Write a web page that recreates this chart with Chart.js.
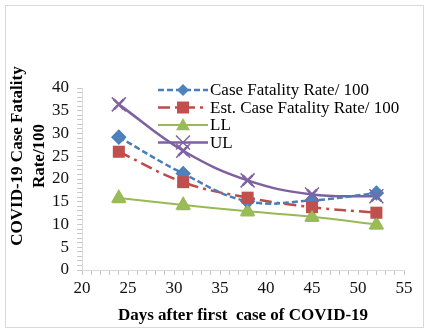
<!DOCTYPE html>
<html>
<head>
<meta charset="utf-8">
<script src="https://cdn.jsdelivr.net/npm/chart.js@4/dist/chart.umd.min.js"></script>
<style>
  html, body { margin: 0; padding: 0; background: #fff; }
  #wrap { width: 430px; height: 335px; position: relative; }
</style>
</head>
<body>
<div id="wrap"><canvas id="c" width="430" height="335"></canvas></div>
<script>
// data
const days = [24, 31, 38, 45, 52];
const cfr = [29.2, 21.2, 15.1, 15.3, 16.9];
const estCfr = [26.0, 19.3, 15.9, 13.8, 12.6];
const ll = [15.8, 14.3, 12.9, 11.7, 10.0];
const ul = [36.4, 26.2, 19.7, 16.6, 16.2];
const xTicks = [20, 25, 30, 35, 40, 45, 50, 55];
const yTicks = [0, 5, 10, 15, 20, 25, 30, 35, 40];

const serif = "'Liberation Serif', 'Times New Roman', serif";

const toPts = (vals) => days.map((d, i) => ({ x: d, y: vals[i] }));

function drawMarker(ctx, style, x, y, r, color) {
    ctx.save();
    ctx.fillStyle = color;
    ctx.strokeStyle = color;
    ctx.beginPath();
    if (style === 'rectRot') {
        ctx.moveTo(x, y - r); ctx.lineTo(x + r, y); ctx.lineTo(x, y + r); ctx.lineTo(x - r, y);
        ctx.closePath(); ctx.fill();
    } else if (style === 'rect') {
        ctx.rect(x - r, y - r, 2 * r, 2 * r); ctx.fill();
    } else if (style === 'triangle') {
        ctx.moveTo(x, y - r); ctx.lineTo(x + r, y + r * 0.75); ctx.lineTo(x - r, y + r * 0.75);
        ctx.closePath(); ctx.fill();
    } else {
        ctx.lineWidth = 1.5;
        ctx.moveTo(x - r, y - r); ctx.lineTo(x + r, y + r);
        ctx.moveTo(x + r, y - r); ctx.lineTo(x - r, y + r); ctx.stroke();
    }
    ctx.restore();
}

const frame = {
    id: 'frame',
    beforeDraw(chart) {
        const ctx = chart.ctx;
        ctx.save();
        ctx.fillStyle = '#fff';
        ctx.fillRect(0, 0, chart.width, chart.height);
        ctx.strokeStyle = '#d9d9d9';
        ctx.lineWidth = 1;
        ctx.strokeRect(5.5, 5.5, 418, 322);
        ctx.restore();
    },
    afterDraw(chart) {
        const ctx = chart.ctx;
        ctx.save();
        // axis titles
        ctx.fillStyle = '#000';
        ctx.font = 'bold 17px ' + serif;
        ctx.textAlign = 'center';
        ctx.textBaseline = 'middle';
        ctx.fillText('Days after first  case of COVID-19', 243, 316);
        ctx.translate(29, 156);
        ctx.rotate(-Math.PI / 2);
        ctx.fillText('COVID-19 Case Fatality', 0, -11);
        ctx.fillText('Rate/100', 0, 11);
        ctx.restore();

        // legend inside the plot
        ctx.save();
        ctx.font = '17px ' + serif;
        ctx.textBaseline = 'middle';
        chart.data.datasets.forEach((ds, i) => {
            const y = 90 + i * 17.5;
            ctx.save();
            ctx.strokeStyle = ds.borderColor;
            ctx.lineWidth = ds.borderWidth;
            ctx.setLineDash(ds.borderDash || []);
            ctx.beginPath();
            ctx.moveTo(158, y); ctx.lineTo(208, y);
            ctx.stroke();
            ctx.restore();
            drawMarker(ctx, ds.pointStyle, 183, y, ds.pointRadius, ds.pointBackgroundColor);
            ctx.fillStyle = '#000';
            ctx.fillText(ds.label, 210, y + 1);
        });
        ctx.restore();
    }
};

const markers = {
    id: 'markers',
    afterDatasetsDraw(chart) {
        const ctx = chart.ctx;
        chart.data.datasets.forEach((ds, i) => {
            chart.getDatasetMeta(i).data.forEach(pt => {
                drawMarker(ctx, ds.pointStyle, pt.x, pt.y, ds.pointRadius, ds.pointBackgroundColor);
            });
        });
    }
};

const tickOpts = (major) => ({
    autoSkip: false,
    stepSize: 1,
    color: '#111',
    font: { family: serif, size: 17 },
    callback: (v) => (major.includes(v) ? String(v) : '')
});

new Chart(document.getElementById('c'), {
    type: 'scatter',
    data: {
        datasets: [{
            label: 'Case Fatality Rate/ 100',
            data: toPts(cfr),
            showLine: true,
            borderColor: '#4a7ebb',
            pointBackgroundColor: '#4f81bd',
            borderWidth: 2.5,
            borderDash: [6, 3],
            pointStyle: 'rectRot',
            pointRadius: 6,
            tension: 0.4
        }, {
            label: 'Est. Case Fatality Rate/ 100',
            data: toPts(estCfr),
            showLine: true,
            borderColor: '#be4b48',
            pointBackgroundColor: '#c0504d',
            borderWidth: 2.5,
            borderDash: [12, 5, 3, 5],
            pointStyle: 'rect',
            pointRadius: 6,
            tension: 0.4
        }, {
            label: 'LL',
            data: toPts(ll),
            showLine: true,
            borderColor: '#98b954',
            pointBackgroundColor: '#9bbb59',
            borderWidth: 2,
            pointStyle: 'triangle',
            pointRadius: 7,
            tension: 0.4
        }, {
            label: 'UL',
            data: toPts(ul),
            showLine: true,
            borderColor: '#7d60a0',
            pointBackgroundColor: '#8064a2',
            borderWidth: 2.5,
            pointStyle: 'crossRot',
            pointRadius: 7,
            tension: 0.4
        }]
    },
    options: {
        responsive: false,
        animation: false,
        layout: { padding: { left: 0, right: 26, top: 88, bottom: 0 } },
        elements: { point: { radius: 0, hoverRadius: 0 } },
        plugins: {
            legend: { display: false },
            tooltip: { enabled: false }
        },
        scales: {
            x: {
                type: 'linear',
                min: 20,
                max: 55,
                afterFit: (s) => { s.height = 65; },
                border: { color: '#d9d9d9', width: 1 },
                grid: { drawOnChartArea: false, tickLength: 5, color: '#c8c8c8' },
                ticks: Object.assign(tickOpts(xTicks), { padding: 3, maxRotation: 0 })
            },
            y: {
                min: 0,
                max: 40,
                afterFit: (s) => { s.width = 82; },
                border: { color: '#d9d9d9', width: 1 },
                grid: { drawOnChartArea: false, tickLength: 5, color: '#c8c8c8' },
                ticks: Object.assign(tickOpts(yTicks), { padding: 8 })
            }
        }
    },
    plugins: [frame, markers]
});
</script>
</body>
</html>
